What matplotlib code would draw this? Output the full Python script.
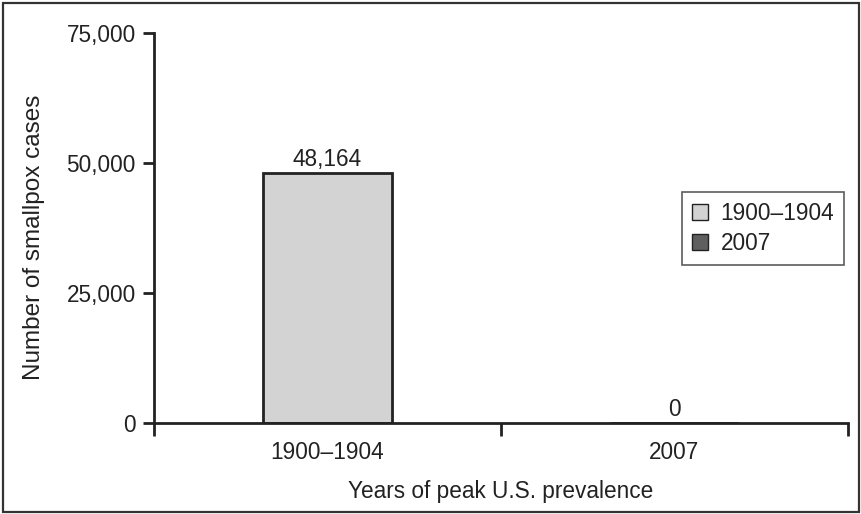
import matplotlib.pyplot as plt
from matplotlib.patches import Patch, Rectangle

plt.rcParams['font.family'] = ['Liberation Sans', 'DejaVu Sans']

periods = ["1900–1904", "2007"]
cases = [48164, 0]
value_labels = ["48,164", "0"]
y_ticks = [0, 25000, 50000, 75000]
y_tick_labels = ["0", "25,000", "50,000", "75,000"]

bar_colors = ["#d3d3d3", "#5f5f5f"]
ink = "#222222"
fs = 16.3

W, H = 861, 514
fig = plt.figure(figsize=(W / 100, H / 100), dpi=100)
ax = fig.add_axes([154 / W, 1 - 423 / H, 694 / W, 390 / H])

x = list(range(len(periods)))
ax.bar(x, cases, width=0.37, color=bar_colors, edgecolor=ink, linewidth=2, zorder=2)

for xi, v, lab in zip(x, cases, value_labels):
    ax.annotate(lab, (xi, v), xytext=(0, 5), textcoords="offset points",
                ha="center", va="baseline", fontsize=fs, color=ink)

ax.set_xlim(-0.5, 1.5)
ax.set_ylim(0, 75000)
ax.set_yticks(y_ticks)
ax.set_yticklabels(y_tick_labels)
ax.set_xticks([-0.5, 0.5, 1.5])
ax.set_xticklabels([])
ax.set_xticks(x, minor=True)
ax.set_xticklabels(periods, minor=True)
ax.tick_params(axis="x", which="major", direction="out", length=9, width=2, color=ink)
ax.tick_params(axis="x", which="minor", length=0, pad=13, labelsize=fs, labelcolor=ink)
ax.tick_params(axis="y", direction="out", length=8, width=2, color=ink, labelsize=fs,
               labelcolor=ink, pad=5)

for side in ["top", "right"]:
    ax.spines[side].set_visible(False)
for side in ["left", "bottom"]:
    ax.spines[side].set_linewidth(2)
    ax.spines[side].set_color(ink)

fig.text(34 / W, 1 - 237 / H, "Number of smallpox cases", rotation=90, ha="center", va="center",
         fontsize=17.5, color=ink)
fig.text(501 / W, 1 - 498 / H, "Years of peak U.S. prevalence", ha="center", va="baseline",
         fontsize=fs, color=ink)

handles = [Patch(facecolor=c, edgecolor=ink, linewidth=1) for c in bar_colors]
leg = ax.legend(handles, periods, loc="upper left", bbox_to_anchor=(682 / W, 1 - 192 / H),
                bbox_transform=fig.transFigure, fontsize=fs, frameon=True, fancybox=False,
                edgecolor="#333333", handlelength=0.7, handleheight=0.7, handletextpad=0.55,
                labelspacing=0.3, borderpad=0.45, borderaxespad=0)
leg.get_frame().set_linewidth(1.2)
for t in leg.get_texts():
    t.set_color(ink)

# outer frame round the whole chart
fig.patches.append(Rectangle((3 / W, 2 / H), 856 / W, 509 / H, transform=fig.transFigure,
                             fill=False, edgecolor="#333333", linewidth=1.6))

fig.savefig("out.png", dpi=100)
